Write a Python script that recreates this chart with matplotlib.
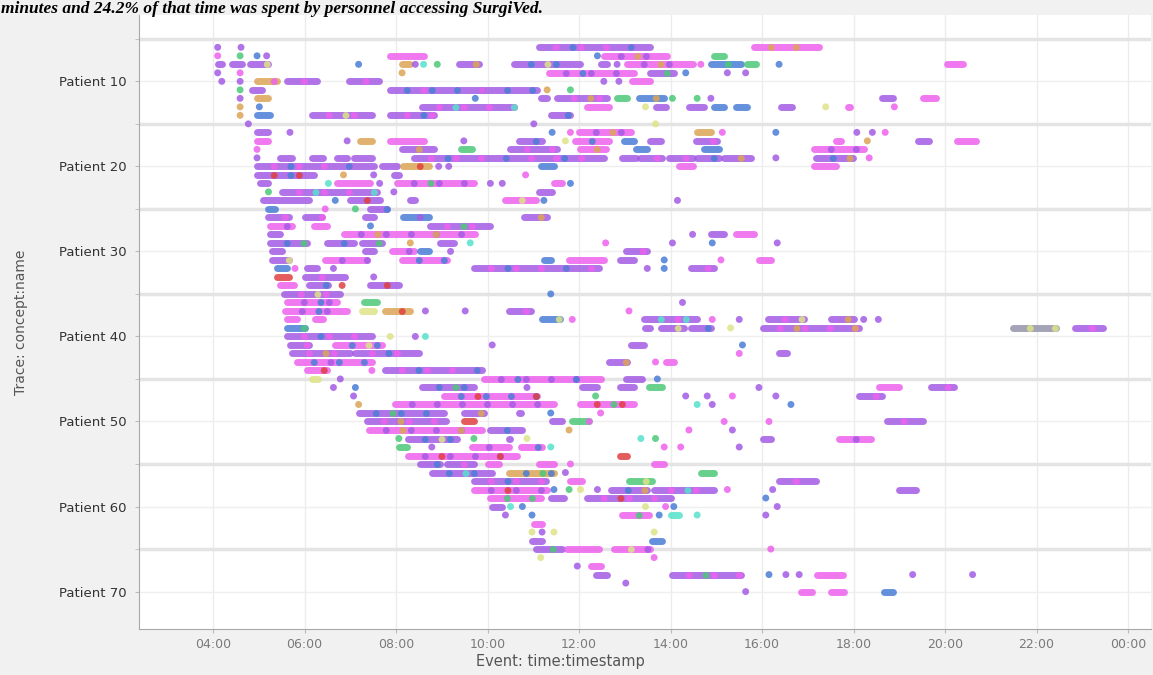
import matplotlib
matplotlib.use("Agg")
import matplotlib.pyplot as plt

# dotted chart: each tuple = (patient, start hour, end hour, colour codes)
# hours past midnight, 24 = 00:00 next day
runs_06_15 = [
    (6, 4.10, 4.10, 'v'), (6, 4.61, 4.61, 'v'), (6, 11.12, 13.56, 'vmb'), (6, 15.82, 17.25, 'mo'),
    (7, 4.10, 4.10, 'm'), (7, 4.59, 4.59, 'g'), (7, 4.96, 4.96, 'b'), (7, 5.17, 5.17, 'v'),
    (7, 7.87, 8.60, 'm'), (7, 12.40, 12.40, 'b'), (7, 12.54, 13.93, 'mvo'), (7, 14.95, 15.17, 'gb'),
    (8, 4.10, 4.19, 'v'), (8, 4.41, 4.63, 'vm'), (8, 4.81, 5.21, 'vy'), (8, 7.18, 7.18, 'b'),
    (8, 8.13, 8.31, 'ov'), (8, 8.42, 8.42, 'v'), (8, 8.60, 8.60, 'c'), (8, 8.90, 8.90, 'g'),
    (8, 9.37, 9.81, 'vo'), (8, 10.57, 12.03, 'vby'), (8, 12.47, 12.62, 'v'), (8, 12.83, 12.83, 'v'),
    (8, 13.05, 14.48, 'mvo'), (8, 14.66, 14.66, 'm'), (8, 14.88, 15.53, 'bgc'), (8, 15.68, 15.86, 'g'),
    (8, 16.37, 16.37, 'b'), (8, 20.05, 20.38, 'm'),
    (9, 4.10, 4.10, 'v'), (9, 4.59, 4.59, 'm'), (9, 8.13, 8.13, 'o'), (9, 11.34, 13.20, 'mvb'),
    (9, 13.56, 14.07, 'vg'), (9, 14.33, 14.33, 'b'), (9, 15.24, 15.24, 'v'), (9, 15.64, 15.64, 'v'),
    (10, 4.19, 4.19, 'v'), (10, 4.59, 4.59, 'v'), (10, 4.96, 5.39, 'om'), (10, 5.61, 6.27, 'vm'),
    (10, 6.96, 7.62, 'vm'), (10, 12.54, 12.54, 'v'), (10, 12.87, 12.87, 'v'), (10, 13.16, 13.56, 'm'),
    (11, 4.59, 4.59, 'g'), (11, 4.85, 5.07, 'vc'), (11, 7.87, 11.08, 'vbm'), (11, 11.30, 11.30, 'o'),
    (11, 11.81, 11.81, 'g'),
    (12, 4.59, 4.59, 'v'), (12, 4.96, 5.21, 'oy'), (12, 9.73, 9.73, 'b'), (12, 11.16, 11.30, 'v'),
    (12, 11.52, 12.62, 'vmo'), (12, 12.83, 13.05, 'gb'), (12, 13.31, 13.86, 'bog'), (12, 14.04, 14.04, 'g'),
    (12, 14.58, 14.58, 'g'), (12, 14.88, 14.88, 'v'), (12, 18.63, 18.85, 'v'), (12, 19.51, 19.80, 'm'),
    (13, 4.59, 4.59, 'o'), (13, 5.01, 5.01, 'b'), (13, 8.57, 10.57, 'vmc'), (13, 12.18, 12.65, 'm'),
    (13, 13.45, 13.45, 'y'), (13, 13.67, 13.89, 'v'), (13, 14.40, 14.73, 'vm'), (13, 14.95, 15.17, 'b'),
    (13, 15.42, 15.68, 'b'), (13, 16.41, 16.66, 'vb'), (13, 17.39, 17.39, 'y'), (13, 17.87, 17.92, 'm'),
    (13, 18.89, 18.89, 'm'),
    (14, 4.59, 4.59, 'o'), (14, 4.96, 5.25, 'bv'), (14, 6.16, 7.47, 'vmy'), (14, 7.87, 8.82, 'vmb'),
    (14, 11.38, 11.81, 'vbm'),
    (15, 4.77, 4.77, 'v'), (15, 11.01, 11.01, 'v'), (15, 13.67, 13.67, 'y'),
]

runs_16_25 = [
    (16, 4.96, 5.21, 'vo'), (16, 5.68, 5.68, 'v'), (16, 11.41, 11.41, 'b'), (16, 11.81, 11.81, 'm'),
    (16, 11.99, 13.13, 'mvo'), (16, 14.58, 14.88, 'og'), (16, 15.13, 15.13, 'm'), (16, 16.30, 16.30, 'b'),
    (16, 18.07, 18.07, 'v'), (16, 18.41, 18.41, 'v'), (16, 18.69, 18.69, 'm'),
    (17, 4.96, 5.21, 'my'), (17, 6.93, 6.93, 'v'), (17, 7.22, 7.47, 'ob'), (17, 7.87, 8.60, 'm'),
    (17, 9.48, 9.48, 'v'), (17, 10.68, 11.19, 'vb'), (17, 11.70, 11.70, 'y'), (17, 11.92, 12.65, 'mb'),
    (17, 12.98, 13.20, 'b'), (17, 13.56, 13.78, 'v'), (17, 14.55, 15.02, 'vm'), (17, 17.61, 17.72, 'm'),
    (17, 18.30, 18.30, 'o'), (17, 19.40, 19.65, 'v'), (17, 20.27, 20.67, 'm'),
    (18, 4.96, 4.96, 'm'), (18, 8.13, 8.82, 'vob'), (18, 9.41, 9.66, 'gc'), (18, 10.50, 11.52, 'vm'),
    (18, 12.03, 12.58, 'mo'), (18, 13.24, 13.49, 'bg'), (18, 14.73, 15.06, 'b'), (18, 17.14, 18.23, 'mv'),
    (19, 4.96, 4.96, 'v'), (19, 5.47, 5.72, 'v'), (19, 6.16, 6.41, 'vb'), (19, 6.71, 6.93, 'v'),
    (19, 7.07, 7.47, 'v'), (19, 8.38, 12.54, 'vmb'), (19, 12.94, 13.24, 'vb'), (19, 13.34, 13.82, 'vm'),
    (19, 13.96, 14.48, 'vm'), (19, 14.58, 15.06, 'vb'), (19, 15.17, 15.75, 'vom'), (19, 16.30, 16.30, 'v'),
    (19, 17.17, 17.98, 'vbo'), (19, 18.34, 18.34, 'm'),
    (20, 4.96, 7.51, 'vmb'), (20, 7.69, 8.02, 'vm'), (20, 8.16, 8.71, 'org'), (20, 8.93, 8.93, 'v'),
    (20, 9.15, 9.15, 'v'), (20, 11.16, 11.45, 'bo'), (20, 14.18, 14.48, 'm'), (20, 17.14, 17.61, 'm'),
    (21, 4.96, 6.20, 'vrb'), (21, 6.85, 6.85, 'o'), (21, 7.51, 7.51, 'v'), (21, 7.95, 8.06, 'v'),
    (21, 10.83, 10.83, 'm'),
    (22, 5.03, 5.21, 'v'), (22, 6.52, 6.52, 'c'), (22, 6.71, 7.43, 'm'), (22, 7.64, 7.64, 'v'),
    (22, 8.02, 9.70, 'mvg'), (22, 10.06, 10.06, 'v'), (22, 10.32, 10.32, 'v'), (22, 11.45, 11.63, 'm'),
    (22, 11.81, 11.81, 'b'),
    (23, 5.21, 5.21, 'g'), (23, 5.50, 7.58, 'vmc'), (23, 7.95, 7.95, 'v'), (23, 11.12, 11.41, 'vc'),
    (24, 5.10, 6.09, 'v'), (24, 6.67, 6.67, 'b'), (24, 7.00, 7.65, 'vrm'), (24, 8.31, 8.42, 'vb'),
    (24, 10.39, 11.05, 'my'), (24, 11.23, 11.23, 'b'), (24, 14.15, 14.15, 'v'),
    (25, 5.21, 5.36, 'bc'), (25, 6.45, 6.45, 'm'), (25, 7.11, 7.11, 'g'), (25, 7.44, 7.80, 'vb'),
]

runs_26_35 = [
    (26, 5.21, 5.65, 'vm'), (26, 6.01, 6.38, 'vm'), (26, 7.33, 7.51, 'vc'), (26, 8.16, 8.71, 'bvo'),
    (26, 10.79, 11.30, 'voy'),
    (27, 5.25, 5.72, 'mv'), (27, 6.20, 6.49, 'mv'), (27, 7.44, 7.44, 'b'), (27, 8.75, 10.06, 'vmg'),
    (28, 5.25, 5.47, 'vm'), (28, 6.85, 9.73, 'mvo'), (28, 14.48, 14.48, 'v'), (28, 14.88, 15.17, 'v'),
    (28, 15.42, 15.82, 'm'),
    (29, 5.25, 6.05, 'vbg'), (29, 6.49, 7.07, 'vby'), (29, 7.25, 7.69, 'vgm'), (29, 8.31, 8.31, 'o'),
    (29, 8.97, 9.26, 'vm'), (29, 9.62, 9.62, 'c'), (29, 12.58, 12.58, 'm'), (29, 14.04, 14.04, 'v'),
    (29, 14.91, 14.91, 'b'), (29, 16.33, 16.33, 'v'),
    (30, 5.28, 5.50, 'vm'), (30, 7.33, 7.51, 'vm'), (30, 7.91, 8.38, 'mv'), (30, 8.53, 8.71, 'b'),
    (30, 9.19, 9.19, 'v'), (30, 13.02, 13.49, 'vmy'),
    (31, 5.28, 5.65, 'vy'), (31, 6.45, 7.36, 'mv'), (31, 8.13, 9.11, 'mb'), (31, 11.23, 11.38, 'b'),
    (31, 11.78, 12.54, 'm'), (31, 12.90, 13.20, 'v'), (31, 13.86, 13.86, 'b'), (31, 15.10, 15.10, 'm'),
    (31, 15.93, 16.19, 'm'),
    (32, 5.39, 5.61, 'bc'), (32, 5.79, 5.79, 'm'), (32, 6.05, 6.27, 'vb'), (32, 6.63, 6.63, 'v'),
    (32, 9.70, 12.43, 'vmb'), (32, 13.49, 13.49, 'v'), (32, 13.86, 13.86, 'b'), (32, 14.44, 14.95, 'vm'),
    (33, 5.39, 5.65, 'ro'), (33, 6.01, 6.89, 'vm'), (33, 7.51, 7.51, 'v'),
    (34, 5.47, 5.76, 'mb'), (34, 6.09, 6.52, 'vb'), (34, 6.82, 6.82, 'r'), (34, 7.44, 8.06, 'vr'),
    (35, 5.54, 6.78, 'vmy'), (35, 11.38, 11.38, 'b'),
]

runs_36_45 = [
    (36, 5.61, 6.71, 'mvb'), (36, 7.29, 7.58, 'g'), (36, 14.26, 14.26, 'v'),
    (37, 5.58, 6.93, 'mvb'), (37, 7.25, 7.51, 'ym'), (37, 7.76, 8.31, 'or'), (37, 8.64, 8.64, 'v'),
    (37, 9.51, 9.51, 'v'), (37, 10.46, 10.94, 'vm'), (37, 13.09, 13.09, 'm'),
    (38, 5.61, 5.83, 'm'), (38, 6.23, 6.41, 'm'), (38, 11.19, 11.59, 'by'), (38, 11.85, 11.85, 'm'),
    (38, 13.42, 14.58, 'vcm'), (38, 14.91, 14.91, 'm'), (38, 15.50, 15.50, 'v'), (38, 16.12, 16.92, 'vmy'),
    (38, 17.50, 18.01, 'voy'), (38, 18.22, 18.22, 'v'), (38, 18.54, 18.54, 'v'),
    (39, 5.61, 6.01, 'bg'), (39, 13.45, 13.56, 'v'), (39, 13.78, 14.29, 'vym'), (39, 14.44, 14.88, 'vb'),
    (39, 15.31, 15.31, 'y'), (39, 16.01, 18.12, 'vmo'), (39, 21.48, 22.42, 'ky'), (39, 22.83, 23.45, 'vm'),
    (40, 5.61, 7.47, 'vmb'), (40, 7.87, 7.87, 'y'), (40, 8.42, 8.42, 'v'), (40, 8.64, 8.64, 'c'),
    (41, 5.68, 6.09, 'vm'), (41, 6.67, 7.69, 'mby'), (41, 10.10, 10.10, 'v'), (41, 13.13, 13.42, 'v'),
    (41, 15.57, 15.57, 'b'),
    (42, 5.72, 7.00, 'vmo'), (42, 7.11, 8.49, 'vmb'), (42, 15.50, 15.50, 'm'), (42, 16.37, 16.55, 'v'),
    (43, 5.83, 7.47, 'mbv'), (43, 12.65, 13.05, 'vo'), (43, 13.67, 13.67, 'm'), (43, 13.89, 14.07, 'm'),
    (44, 6.05, 6.49, 'mry'), (44, 7.47, 7.47, 'm'), (44, 7.76, 9.88, 'vmb'),
    (45, 6.16, 6.30, 'yo'), (45, 6.78, 6.78, 'v'), (45, 9.92, 12.47, 'mvb'), (45, 13.02, 13.38, 'vb'),
    (45, 13.71, 13.71, 'b'),
]

runs_46_55 = [
    (46, 6.63, 6.63, 'v'), (46, 7.11, 7.11, 'b'), (46, 8.57, 9.70, 'vbg'), (46, 10.86, 10.86, 'v'),
    (46, 12.07, 12.40, 'vb'), (46, 12.90, 13.20, 'vy'), (46, 13.53, 13.82, 'gb'), (46, 15.93, 15.93, 'v'),
    (46, 18.56, 19.00, 'm'), (46, 19.69, 20.20, 'vm'),
    (47, 7.07, 7.07, 'v'), (47, 9.04, 11.08, 'mbr'), (47, 12.36, 12.36, 'g'), (47, 14.33, 14.33, 'v'),
    (47, 14.80, 14.80, 'v'), (47, 15.35, 15.35, 'm'), (47, 16.30, 16.30, 'v'), (47, 18.12, 18.63, 'vm'),
    (48, 7.18, 7.18, 'o'), (48, 7.98, 11.45, 'mv'), (48, 12.03, 13.20, 'mrg'), (48, 14.58, 14.58, 'c'),
    (48, 14.91, 14.91, 'v'), (48, 16.63, 16.63, 'b'),
    (49, 7.18, 9.04, 'vbg'), (49, 9.48, 9.92, 'vo'), (49, 10.68, 10.72, 'v'), (49, 11.38, 11.38, 'b'),
    (49, 12.47, 12.47, 'm'),
    (50, 7.36, 9.08, 'vmo'), (50, 9.48, 9.70, 'ro'), (50, 11.41, 11.63, 'v'), (50, 11.85, 12.21, 'gm'),
    (50, 15.17, 15.17, 'm'), (50, 16.15, 16.15, 'm'), (50, 18.74, 19.51, 'vm'),
    (51, 7.40, 9.88, 'mvo'), (51, 10.06, 10.76, 'vbm'), (51, 11.78, 11.78, 'o'), (51, 14.40, 14.40, 'm'),
    (51, 15.35, 15.35, 'v'),
    (52, 8.06, 8.06, 'g'), (52, 8.27, 9.33, 'vby'), (52, 9.70, 9.70, 'g'), (52, 10.46, 10.50, 'v'),
    (52, 10.86, 10.86, 'y'), (52, 13.35, 13.35, 'c'), (52, 13.67, 13.67, 'g'), (52, 16.01, 16.19, 'vb'),
    (52, 17.68, 18.38, 'mv'),
    (53, 8.06, 8.24, 'gv'), (53, 8.78, 8.78, 'v'), (53, 9.66, 10.46, 'mv'), (53, 10.72, 11.19, 'mb'),
    (53, 11.38, 11.38, 'c'), (53, 13.86, 13.86, 'm'), (53, 14.22, 14.22, 'm'), (53, 15.50, 15.50, 'v'),
    (54, 8.27, 10.65, 'mvr'), (54, 12.90, 13.05, 'r'),
    (55, 8.53, 8.97, 'vb'), (55, 9.11, 9.70, 'vm'), (55, 10.00, 10.24, 'm'), (55, 11.12, 11.45, 'mo'),
    (55, 11.81, 11.81, 'm'), (55, 13.64, 13.86, 'm'),
]

runs_56_70 = [
    (56, 8.78, 10.10, 'vbc'), (56, 10.46, 11.45, 'obg'), (56, 11.70, 11.70, 'v'), (56, 14.66, 14.95, 'gr'),
    (57, 9.70, 11.27, 'vmb'), (57, 11.81, 12.07, 'mb'), (57, 13.09, 13.60, 'gyc'), (57, 16.37, 17.17, 'vm'),
    (58, 9.70, 11.30, 'mvr'), (58, 11.45, 11.45, 'b'), (58, 11.78, 11.78, 'g'), (58, 12.03, 12.03, 'y'),
    (58, 12.40, 12.40, 'v'), (58, 12.69, 13.49, 'vbo'), (58, 13.64, 14.95, 'vmc'), (58, 15.24, 15.24, 'm'),
    (58, 16.23, 16.23, 'v'), (58, 19.00, 19.36, 'v'),
    (59, 10.06, 11.16, 'mg'), (59, 11.38, 11.67, 'vb'), (59, 12.18, 14.00, 'vmr'), (59, 16.08, 16.08, 'b'),
    (60, 10.10, 10.32, 'vb'), (60, 10.50, 10.50, 'c'), (60, 10.76, 10.76, 'b'), (60, 13.45, 13.45, 'y'),
    (60, 13.89, 13.89, 'm'), (60, 14.07, 14.07, 'b'), (60, 16.33, 16.33, 'v'),
    (61, 10.39, 10.39, 'v'), (61, 10.97, 10.97, 'b'), (61, 12.94, 13.53, 'mg'), (61, 13.75, 13.75, 'b'),
    (61, 14.00, 14.18, 'cm'), (61, 14.58, 14.58, 'c'), (61, 16.08, 16.08, 'v'),
    (62, 11.01, 11.19, 'mb'),
    (63, 10.97, 10.97, 'y'), (63, 11.19, 11.19, 'v'), (63, 11.45, 11.45, 'y'), (63, 13.64, 13.64, 'y'),
    (64, 10.97, 11.19, 'v'), (64, 13.60, 13.82, 'b'),
    (65, 11.05, 11.63, 'vgr'), (65, 11.74, 12.43, 'm'), (65, 12.76, 13.56, 'myv'), (65, 16.19, 16.19, 'm'),
    (66, 11.16, 11.16, 'y'), (66, 13.64, 13.64, 'm'),
    (67, 11.96, 11.96, 'v'), (67, 12.25, 12.47, 'm'),
    (68, 12.36, 12.62, 'vm'), (68, 14.04, 15.53, 'vmg'), (68, 16.15, 16.15, 'b'), (68, 16.52, 16.52, 'v'),
    (68, 16.81, 16.81, 'v'), (68, 17.21, 17.76, 'm'), (68, 19.29, 19.29, 'v'), (68, 20.60, 20.60, 'v'),
    (69, 13.02, 13.02, 'v'),
    (70, 15.64, 15.64, 'v'), (70, 16.85, 17.10, 'm'), (70, 17.50, 17.80, 'm'), (70, 18.67, 18.85, 'bv'),
]

palette = {
    'm': '#ee62ee', 'v': '#a45ce4', 'b': '#4a7ed6', 'g': '#4cc878', 'c': '#55e2cc',
    'o': '#dca556', 'y': '#dde388', 'r': '#e04040', 'k': '#9494aa',
}

label_patients = [10, 20, 30, 40, 50, 60, 70]
band_patients = [5, 15, 25, 35, 45, 55, 65]
hour_ticks = [4, 6, 8, 10, 12, 14, 16, 18, 20, 22, 24]
hour_labels = ['04:00', '06:00', '08:00', '10:00', '12:00', '14:00', '16:00',
               '18:00', '20:00', '22:00', '00:00']

caption = 'minutes and 24.2% of that time was spent by personnel accessing SurgiVed.'

all_runs = runs_06_15 + runs_16_25 + runs_26_35 + runs_36_45 + runs_46_55 + runs_56_70

fig = plt.figure(figsize=(11.53, 6.75), dpi=100)
fig.patch.set_facecolor('#f1f1f1')
ax = fig.add_axes([139 / 1153, 46 / 675, (1151 - 139) / 1153, (660 - 46) / 675])
ax.set_facecolor('white')

LW = 5.0
A = 0.85
for p, s, e, cols in all_runs:
    if e - s < 0.03:
        ax.scatter([s], [p], s=LW ** 2, color=palette[cols[0]], edgecolors='none',
                   alpha=A, zorder=3)
        continue
    ax.plot([s, e], [p, p], color=palette[cols[0]], lw=LW, solid_capstyle='round',
            alpha=A, zorder=3)
    if len(cols) > 1:
        ax.plot([s, e], [p, p], color=palette[cols[1]], lw=LW, ls=(1.2, (0.01, 3.6)),
                dash_capstyle='round', alpha=A, zorder=4)
    if len(cols) > 2:
        ax.plot([s, e], [p, p], color=palette[cols[2]], lw=LW, ls=(3.6, (0.01, 8.4)),
                dash_capstyle='round', alpha=A, zorder=4)

ax.set_xlim(2.38, 24.5)
ax.set_ylim(74.4, 2.2)

ax.set_xticks(hour_ticks)
ax.set_xticklabels(hour_labels)
ax.set_yticks(label_patients)
ax.set_yticklabels(['Patient %d' % p for p in label_patients])
ax.set_yticks(band_patients, minor=True)

ax.grid(axis='x', color='#ececec', lw=1.0, zorder=0)
ax.grid(axis='y', which='major', color='#efefef', lw=1.0, zorder=0)
ax.grid(axis='y', which='minor', color='#e4e4e4', lw=2.5, zorder=0)
ax.set_axisbelow(True)

ax.tick_params(axis='x', colors='#bbbbbb', labelcolor='#7a7a7a', labelsize=9, length=3)
ax.tick_params(axis='y', which='major', colors='#bbbbbb', labelcolor='#333333',
               labelsize=9.5, length=3, pad=6)
ax.tick_params(axis='y', which='minor', colors='#bbbbbb', length=3)

for side in ['top', 'right']:
    ax.spines[side].set_visible(False)
for side in ['left', 'bottom']:
    ax.spines[side].set_color('#a8a8a8')

ax.set_xlabel('Event: time:timestamp', fontsize=10.5, color='#555555')
ax.xaxis.set_label_coords((560 - 139) / 1012, -0.040)
ax.set_ylabel('Trace: concept:name', fontsize=10, color='#555555')
ax.yaxis.set_label_coords((28 - 139) / 1012, 0.5)

# caption line of the surrounding page, sitting right at the top edge
fig.text(0.001, 0.999, caption, family='Liberation Serif', style='italic',
         weight='bold', fontsize=12.5, va='top', ha='left', color='black', zorder=5)

fig.savefig('out.png', dpi=100, facecolor=fig.get_facecolor())
